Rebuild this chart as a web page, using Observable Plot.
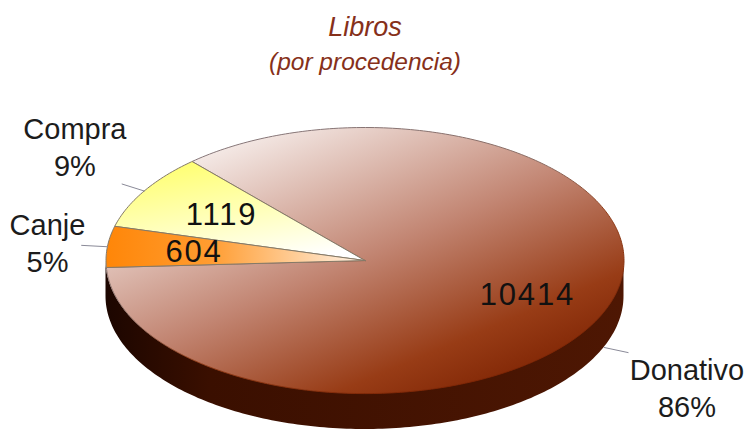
<!DOCTYPE html>
<html>
<head>
<meta charset="utf-8">
<script src="https://cdn.jsdelivr.net/npm/d3@7"></script>
<script src="https://cdn.jsdelivr.net/npm/@observablehq/plot@0.6"></script>
<style>
html,body{margin:0;padding:0;background:#fff;}
svg{display:block;}
.num text{letter-spacing:1.8px;}
</style>
</head>
<body>
<div id="chart"></div>
<script>
const categories = ["Canje", "Compra", "Donativo"];
const counts = [604, 1119, 10414];
const percents = ["5%", "9%", "86%"];
const title = "Libros";
const subtitle = "(por procedencia)";

// layout, in the pie's own unit coordinates
const firstAngleDeg = 183;
const depth = 0.27;
const leaderReach = 1.1;
const nameX = [-1.226, -1.12, 1.243];
const nameY = [0.14, 0.862, -0.95];
const countX = [-0.66, -0.554, 0.627];
const countY = [0.06, 0.338, -0.263];

const rad = Math.PI / 180;
const ringPoint = (deg, r = 1, drop = 0) => ({
  x: r * Math.cos(deg * rad),
  y: r * Math.sin(deg * rad) - drop
});
const pie = d3.pie().sort(null)(counts).map((s) => ({
  from: firstAngleDeg - s.startAngle / rad,
  to: firstAngleDeg - s.endAngle / rad
}));
const slicePoints = (s) => {
  const pts = [{x: 0, y: 0}];
  for (let a = s.from; a >= s.to; a -= 1) pts.push(ringPoint(a));
  pts.push(ringPoint(s.to), {x: 0, y: 0});
  return pts;
};
const wall = d3.range(180, 361, 1).map((a) => ringPoint(a));
const labelRows = categories.map((c, i) => ({
  text: `${c}\n${percents[i]}`, x: nameX[i], y: nameY[i]
}));
const countRows = counts.map((c, i) => ({text: String(c), x: countX[i], y: countY[i]}));
const leaders = pie.map((s) => {
  const mid = (s.from + s.to) / 2;
  const front = Math.sin(mid * rad) < 0 ? depth : 0;
  return {a: ringPoint(mid, 1, front), b: ringPoint(mid, leaderReach, front)};
});

const defs = () => {
  const stops = (id, x1, y1, x2, y2, list) => `<linearGradient id="${id}" x1="${x1}" y1="${y1}" x2="${x2}" y2="${y2}">` +
    list.map(([o, c]) => `<stop offset="${o}" stop-color="${c}"/>`).join("") + `</linearGradient>`;
  const g = document.createElementNS("http://www.w3.org/2000/svg", "g");
  g.innerHTML = `<defs>` +
    stops("gDon", 0.12, 0.02, 0.88, 0.95, [[0, "#ffffff"], [0.5, "#c28572"], [0.8, "#983c16"], [1, "#7a2000"]]) +
    stops("gRim", 0.1, 0, 0.8, 1, [[0, "#857a80"], [0.45, "#8a6a60"], [0.62, "#8f3c18"], [1, "#7a2000"]]) +
    stops("gCom", 0.25, 0, 0.7, 1, [[0, "#ffff70"], [0.6, "#ffffc4"], [1, "#ffffff"]]) +
    stops("gCan", 0, 0, 1, 0, [[0, "#ff8608"], [0.4, "#ff9c30"], [1, "#fff4ea"]]) +
    stops("gWall", 0, 0, 1, 0, [[0, "#1c0600"], [0.2, "#3a0f00"], [1, "#4e1703"]]) +
    `</defs>`;
  return g;
};

const fills = ["url(#gCan)", "url(#gCom)", "url(#gDon)"];
const rims = ["#857a68", "#857a68", "url(#gRim)"];
const drawOrder = [2, 1, 0];

const chart = Plot.plot({
  width: 745,
  height: 430,
  margin: 0,
  style: {background: "#fff", fontFamily: "'Liberation Sans', Arial, sans-serif"},
  x: {domain: [-1, 1], range: [105.5, 623.5], axis: null},
  y: {domain: [1, -1.27], range: [127, 429], axis: null},
  marks: [
    defs,
    Plot.areaY(wall, {x: "x", y1: "y", y2: (d) => d.y - depth, fill: "url(#gWall)"}),
    ...drawOrder.map((i) => Plot.line(slicePoints(pie[i]), {
      x: "x", y: "y", fill: fills[i], stroke: rims[i], strokeWidth: 1, curve: "linear"
    })),
    ...leaders.map((l) => Plot.line([l.a, l.b], {x: "x", y: "y", stroke: "#8a8a98", strokeWidth: 1})),
    Plot.text(labelRows, {x: "x", y: "y", text: "text", fontSize: 29, lineHeight: 1.28, fill: "#1c1c1c"}),
    Plot.text(countRows, {x: "x", y: "y", text: "text", fontSize: 31, fill: "#111", className: "num"}),
    Plot.text([title], {frameAnchor: "top", dy: 16, dx: -8, fontSize: 27, fontStyle: "italic", fill: "#86301a"}),
    Plot.text([subtitle], {frameAnchor: "top", dy: 52, dx: -8, fontSize: 24.5, fontStyle: "italic", fill: "#86301a"})
  ]
});
document.getElementById("chart").append(chart);
</script>
</body>
</html>
